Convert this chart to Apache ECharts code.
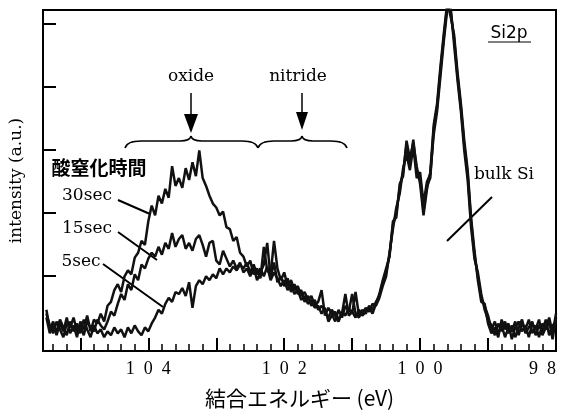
<!DOCTYPE html>
<html><head><meta charset="utf-8">
<script src="https://cdn.jsdelivr.net/npm/echarts/dist/echarts.min.js"></script>
<style>html,body{margin:0;padding:0;background:#fff}#c{width:563px;height:414px}</style>
</head><body><div id="c"></div>
<script>
// Binding energy grid (eV)
const energy = [105.50,105.45,105.40,105.35,105.30,105.25,105.20,105.15,105.10,105.05,
105.00,104.95,104.90,104.85,104.80,104.75,104.70,104.65,104.60,104.55,
104.50,104.45,104.40,104.35,104.30,104.25,104.20,104.15,104.10,104.05,
104.00,103.95,103.90,103.85,103.80,103.75,103.70,103.65,103.60,103.55,
103.50,103.45,103.40,103.35,103.30,103.25,103.20,103.15,103.10,103.05,
103.00,102.95,102.90,102.85,102.80,102.75,102.70,102.65,102.60,102.55,
102.50,102.45,102.40,102.35,102.30,102.25,102.20,102.15,102.10,102.05,
102.00,101.95,101.90,101.85,101.80,101.75,101.70,101.65,101.60,101.55,
101.50,101.45,101.40,101.35,101.30,101.25,101.20,101.15,101.10,101.05,
101.00,100.95,100.90,100.85,100.80,100.75,100.70,100.65,100.60,100.55,
100.50,100.45,100.40,100.35,100.30,100.25,100.20,100.15,100.10,100.05,
100.00,99.95,99.90,99.85,99.80,99.75,99.70,99.65,99.60,99.55,
99.50,99.45,99.40,99.35,99.30,99.25,99.20,99.15,99.10,99.05,
99.00,98.95,98.90,98.85,98.80,98.75,98.70,98.65,98.60,98.55,
98.50,98.45,98.40,98.35,98.30,98.25,98.20,98.15,98.10,98.05,98.00];

// Intensities (a.u.)
const sec30 = [42,22,30,16,28,20,34,18,26,14,
30,22,36,20,32,28,38,30,46,50,
62,68,60,76,82,78,95,100,112,108,
132,148,138,158,150,165,156,188,168,176,
166,186,174,192,178,204,176,168,158,150,
146,138,142,126,124,112,116,100,96,86,
92,78,84,74,106,82,78,112,84,72,
80,66,72,62,66,56,60,52,56,46,
50,62,36,44,38,30,42,34,46,40,
58,38,34,42,38,46,42,50,56,70,
80,98,128,140,166,182,210,190,215,182,
176,142,168,176,226,248,286,320,352,345,
318,280,248,210,180,132,98,76,54,46,
36,22,30,18,26,14,24,20,30,16,
28,22,32,18,26,14,28,22,30,12,34];

const sec15 = [38,26,18,30,22,14,28,24,34,20,
26,16,30,24,20,32,26,22,30,40,
36,48,58,52,68,62,78,72,88,84,
94,100,96,106,98,110,104,120,106,114,
118,104,110,102,114,118,108,96,110,112,
92,88,102,94,86,92,84,90,80,84,
76,86,72,80,88,110,74,90,70,76,
66,74,60,68,58,62,50,56,46,52,
42,46,40,34,42,36,30,40,36,44,
38,60,36,38,44,40,48,46,54,66,
76,100,124,146,160,186,200,184,208,176,
182,150,172,180,220,244,280,316,348,350,
312,276,244,204,174,126,94,80,58,42,
32,26,16,28,20,30,18,26,14,24,
32,18,24,30,16,26,20,32,16,26,30];

const sec5 = [34,18,26,20,32,24,16,30,20,28,
18,32,22,14,26,18,22,14,20,16,
24,18,22,14,24,18,26,20,16,24,
20,28,34,42,38,48,54,50,60,58,
64,56,70,44,66,72,68,76,72,78,
74,84,78,84,80,86,82,88,84,90,
80,88,78,84,76,86,72,80,74,66,
72,62,68,58,62,52,56,48,52,44,
46,38,44,30,36,40,32,38,58,36,
40,34,42,36,40,44,38,48,58,72,
84,96,132,136,170,178,214,196,212,188,
170,138,164,182,230,252,290,324,355,340,
322,284,252,214,184,136,102,72,50,48,
28,18,24,14,32,22,28,12,24,30,
20,26,14,28,22,32,16,24,34,18,38];

const xLabels = [98, 100, 102, 104];
const yTicks = [77, 141, 205, 269, 333];

function pairs(ys){ return energy.map((e,i)=>[e, ys[i]]); }
const lineStyle = {color:'#111', width:2.5};
const serif = 'DejaVu Serif';
const cjk = 'Noto Sans CJK JP';

function brace(x1, xm, x2, y0, y1, y2){
  const s = {stroke:'#000', lineWidth:1.5, fill:null};
  return [
    {type:'bezierCurve', shape:{x1:x1, y1:y0, cpx1:x1+2, cpy1:y1, x2:x1+16, y2:y1}, style:s},
    {type:'line', shape:{x1:x1+16, y1:y1, x2:xm-11, y2:y1}, style:s},
    {type:'bezierCurve', shape:{x1:xm-11, y1:y1, cpx1:xm-1, cpy1:y1, x2:xm, y2:y2}, style:s},
    {type:'bezierCurve', shape:{x1:xm, y1:y2, cpx1:xm+1, cpy1:y1, x2:xm+11, y2:y1}, style:s},
    {type:'line', shape:{x1:xm+11, y1:y1, x2:x2-16, y2:y1}, style:s},
    {type:'bezierCurve', shape:{x1:x2-16, y1:y1, cpx1:x2-2, cpy1:y1, x2:x2, y2:y0}, style:s}
  ];
}

const chart = echarts.init(document.getElementById('c'), null, {renderer:'canvas'});
chart.setOption({
  animation:false,
  backgroundColor:'#fff',
  grid:{left:43, top:10, right:7, bottom:57, show:true, borderColor:'#000', borderWidth:2, backgroundColor:'transparent'},
  xAxis:{
    type:'value', inverse:true, min:98, max:105.55, interval:1,
    axisLine:{show:true, lineStyle:{color:'#000', width:2}},
    axisTick:{show:true, inside:true, length:13, lineStyle:{color:'#000', width:2}},
    minorTick:{show:true, splitNumber:5, length:7, lineStyle:{color:'#000', width:1.5}},
    splitLine:{show:false},
    axisLabel:{
      color:'#000', fontSize:18, fontFamily:'Liberation Serif', margin:9,
      alignMinLabel:'right',
      formatter:function(v){ return xLabels.indexOf(Math.round(v))>=0 && Math.abs(v-Math.round(v))<1e-6 ? String(Math.round(v)).split('').join('\u2002') : ''; }
    },
    name:'結合エネルギー (eV)', nameLocation:'middle', nameGap:37,
    nameTextStyle:{color:'#000', fontSize:21, fontFamily:cjk}
  },
  yAxis:{
    type:'value', min:0, max:347,
    axisLine:{show:true, lineStyle:{color:'#000', width:2}},
    axisTick:{show:true, inside:true, length:13, customValues:yTicks, lineStyle:{color:'#000', width:2}},
    axisLabel:{show:false},
    splitLine:{show:false},
    name:'intensity (a.u.)', nameLocation:'middle', nameGap:18, nameRotate:90,
    nameTextStyle:{color:'#000', fontSize:17, fontFamily:serif}
  },
  series:[
    {name:'5sec', type:'line', data:pairs(sec5), showSymbol:false, symbol:'none', lineStyle:lineStyle, clip:true},
    {name:'15sec', type:'line', data:pairs(sec15), showSymbol:false, symbol:'none', lineStyle:lineStyle, clip:true},
    {name:'30sec', type:'line', data:pairs(sec30), showSymbol:false, symbol:'none', lineStyle:lineStyle, clip:true}
  ],
  graphic:[
    {type:'text', x:191, y:77, style:{text:'oxide', font:'17px "DejaVu Serif"', fill:'#000', textAlign:'center', textVerticalAlign:'middle'}},
    {type:'text', x:298, y:77, style:{text:'nitride', font:'17px "DejaVu Serif"', fill:'#000', textAlign:'center', textVerticalAlign:'middle'}},
    {type:'line', shape:{x1:191, y1:93, x2:191, y2:118}, style:{stroke:'#000', lineWidth:1.5}},
    {type:'polygon', shape:{points:[[184,114],[198,114],[191,133]]}, style:{fill:'#000'}},
    {type:'line', shape:{x1:302, y1:93, x2:302, y2:116}, style:{stroke:'#000', lineWidth:1.5}},
    {type:'polygon', shape:{points:[[296,112],[308,112],[302,130]]}, style:{fill:'#000'}}
  ].concat(brace(125,191,258,148,141,136)).concat(brace(258,302,347,148,141,136)).concat([
    {type:'text', x:509, y:34, style:{text:'Si2p', font:'17px "DejaVu Sans"', fill:'#000', textAlign:'center', textVerticalAlign:'middle'}},
    {type:'line', shape:{x1:488, y1:42, x2:531, y2:42}, style:{stroke:'#000', lineWidth:1.2}},
    {type:'text', x:504, y:175, style:{text:'bulk Si', font:'17px "DejaVu Serif"', fill:'#000', textAlign:'center', textVerticalAlign:'middle'}},
    {type:'line', shape:{x1:447, y1:241, x2:492, y2:197}, style:{stroke:'#000', lineWidth:2}},
    {type:'text', x:99, y:168, style:{text:'酸窒化時間', font:'bold 19px "Noto Sans CJK JP"', fill:'#000', textAlign:'center', textVerticalAlign:'middle'}},
    {type:'text', x:87, y:196, style:{text:'30sec', font:'17px "DejaVu Serif"', fill:'#000', textAlign:'center', textVerticalAlign:'middle'}},
    {type:'text', x:87, y:229, style:{text:'15sec', font:'17px "DejaVu Serif"', fill:'#000', textAlign:'center', textVerticalAlign:'middle'}},
    {type:'text', x:81, y:262, style:{text:'5sec', font:'17px "DejaVu Serif"', fill:'#000', textAlign:'center', textVerticalAlign:'middle'}},
    {type:'line', shape:{x1:118, y1:200, x2:150, y2:214}, style:{stroke:'#000', lineWidth:2}},
    {type:'line', shape:{x1:118, y1:232, x2:157, y2:260}, style:{stroke:'#000', lineWidth:2}},
    {type:'line', shape:{x1:103, y1:264, x2:163, y2:307}, style:{stroke:'#000', lineWidth:2}}
  ])
});
</script></body></html>
